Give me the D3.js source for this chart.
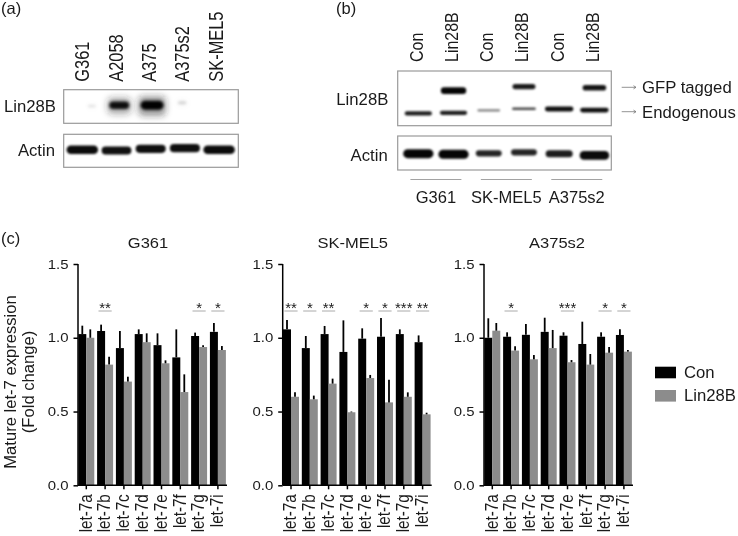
<!DOCTYPE html>
<html><head><meta charset="utf-8">
<script src="https://cdnjs.cloudflare.com/ajax/libs/d3/7.8.5/d3.min.js"></script>
<style>html,body{margin:0;background:#fff}svg{display:block}text{font-family:"Liberation Sans",Arial,sans-serif;fill:#1a1a1a}</style>
</head><body><svg id="c" width="738" height="536"></svg>
<script>
// ---- panel (c) data
const mirnas = ["let-7a","let-7b","let-7c","let-7d","let-7e","let-7f","let-7g","let-7i"];
const yTicks = [0,0.5,1.0,1.5];
const panelNames = ["G361","SK-MEL5","A375s2"];
const seriesNames = ["Con","Lin28B"];
const g361Con = [1.025,1.046,0.93,1.025,0.95,0.867,1.012,1.04];
const g361ConTop = [1.082,1.089,1.046,1.057,1.03,1.057,1.035,1.10];
const g361Lin = [1.0,0.818,0.703,0.97,0.827,0.632,0.937,0.917];
const g361LinTop = [1.057,0.872,0.736,1.03,0.847,0.752,0.949,0.944];
const g361Sig = ["","**","","","","","*","*"];
const skCon = [1.057,0.93,1.025,0.904,0.994,1.007,1.025,0.97];
const skConTop = [1.12,1.012,1.08,1.118,1.064,1.134,1.057,1.016];
const skLin = [0.60,0.583,0.689,0.495,0.727,0.562,0.60,0.481];
const skLinTop = [0.63,0.608,0.723,0.50,0.748,0.716,0.63,0.492];
const skSig = ["**","*","**","","*","*","***","**"];
const a375Con = [1.0,1.007,1.02,1.04,1.014,0.958,1.007,1.019];
const a375ConTop = [1.132,1.037,1.093,1.136,1.037,1.109,1.037,1.057];
const a375Lin = [1.048,0.913,0.854,0.93,0.834,0.818,0.899,0.906];
const a375LinTop = [1.10,0.942,0.883,1.053,0.849,0.89,0.937,0.917];
const a375Sig = ["","*","","","***","","*","*"];
// ---- blot data: density 0..1, migration as fraction of membrane height, drift in lanes
const blotALanes = ["G361","A2058","A375","A375s2","SK-MEL5"];
const aLinDensity = [0.08,0.82,1,0.12,0];
const aLinMigration = [0.49,0.46,0.46,0.39,0.5];
const aLinDrift = [0.28,0.08,0.04,-0.08,0];
const aActDensity = [0.9,0.85,0.86,0.86,0.9];
const aActMigration = [0.47,0.49,0.44,0.42,0.47];
const blotBLanes = ["Con","Lin28B","Con ","Lin28B ","Con  ","Lin28B  "];
const bGfpDensity = [0,0.95,0,0.75,0,0.8];
const bGfpMigration = [0,0.36,0,0.285,0,0.305];
const bEndoDensity = [0.72,0.72,0.27,0.38,0.85,0.85];
const bEndoMigration = [0.775,0.765,0.72,0.69,0.695,0.715];
const bActDensity = [0.95,0.95,0.66,0.66,0.74,0.9];
const bActMigration = [0.52,0.54,0.51,0.48,0.52,0.57];
const bCellLines = ["G361","SK-MEL5","A375s2"];

const svg = d3.select("#c");
const root = svg.append("g").attr("opacity",0.999);
const defs = svg.append("defs");
defs.append("filter").attr("id","core").attr("x","-30%").attr("y","-80%").attr("width","160%").attr("height","260%")
  .append("feGaussianBlur").attr("stdDeviation",1);
defs.append("filter").attr("id","soft").attr("x","-40%").attr("y","-150%").attr("width","180%").attr("height","400%")
  .append("feGaussianBlur").attr("stdDeviation",1.8);
defs.append("filter").attr("id","halo").attr("x","-60%").attr("y","-200%").attr("width","220%").attr("height","500%")
  .append("feGaussianBlur").attr("stdDeviation",3.2);

function txt(x,y,s,size,anchor,rot,stretch){
  const t = root.append("text").attr("font-size",size).attr("text-anchor",anchor||"start").text(s);
  const k = stretch||1;
  t.attr("transform", rot ? `translate(${x},${y}) rotate(-90) scale(1,${k})` : `translate(${x},${y}) scale(${k},1)`);
  return t;
}
txt(1,14,"(a)",16.5); txt(336,14,"(b)",16.5); txt(1,244,"(c)",16.5);

function membrane(x0,x1,y0,y1){
  root.append("rect").attr("x",x0).attr("y",y0).attr("width",x1-x0).attr("height",y1-y0)
    .attr("fill","#fff").attr("stroke","#9a9a9a").attr("stroke-width",1.2);
}
function bands(x,y0,y1,density,migration,drift,wRange,hRange,halo){
  const my = d3.scaleLinear().domain([0,1]).range([y0,y1]);
  const w = d3.scaleLinear().domain([0,1]).range(wRange);
  const h = d3.scaleLinear().domain([0,1]).range(hRange);
  const op = d3.scaleLinear().domain([0,0.4,1]).range([0,0.75,1]);
  const rows = density.map((d,i)=>({d,m:migration[i],dr:drift?drift[i]:0,i})).filter(r=>r.d>0);
  const step = x.step();
  const cx = r=>x(x.domain()[r.i])+x.bandwidth()/2+r.dr*step;
  if(halo){
    const g = root.append("g").attr("filter","url(#halo)");
    g.selectAll("rect").data(rows).join("rect")
      .attr("x",r=>cx(r)-w(r.d)*0.6).attr("width",r=>w(r.d)*1.2)
      .attr("y",r=>my(r.m)-h(r.d)).attr("height",r=>h(r.d)*2.2)
      .attr("rx",5).attr("fill","#222").attr("opacity",r=>r.d*0.45);
  }
  const g = root.append("g").attr("filter",halo?"url(#soft)":"url(#core)");
  g.selectAll("rect").data(rows).join("rect")
    .attr("x",r=>cx(r)-w(r.d)/2).attr("width",r=>w(r.d))
    .attr("y",r=>my(r.m)-h(r.d)/2).attr("height",r=>h(r.d))
    .attr("rx",r=>h(r.d)/2).attr("fill","#050505").attr("opacity",r=>op(r.d));
}
// ---- blot (a)
const xa = d3.scaleBand().domain(blotALanes).range([65.2,236.2]).padding(0);
blotALanes.forEach((n,i)=>txt(xa(n)+xa.bandwidth()/2+6.8-i*0.8,81.7,n,16.4,"start",true,1.2));
txt(56,112,"Lin28B",16.7,"end");
txt(55,156,"Actin",16.7,"end");
membrane(63.7,238.3,89.7,123.3);
bands(xa,89.7,123.3,aLinDensity,aLinMigration,aLinDrift,[6,23],[1,9],true);
membrane(63.7,238.3,134.3,167.3);
bands(xa,134.3,167.3,aActDensity,aActMigration,null,[0,35],[0,9.5],false);
// ---- blot (b)
const xb = d3.scaleBand().domain(blotBLanes).range([400.7,612]).padding(0);
blotBLanes.forEach(n=>txt(xb(n)+xb.bandwidth()/2+4.5,62,n.trim(),16,"start",true,1.2));
txt(388.3,105,"Lin28B",16.7,"end");
txt(387.7,160.7,"Actin",16.7,"end");
membrane(397.7,611.3,71,125.7);
bands(xb,71,125.7,bGfpDensity,bGfpMigration,null,[14,26],[0,7],false);
bands(xb,71,125.7,bEndoDensity,bEndoMigration,null,[20,30],[1,5.5],false);
membrane(397.7,611.3,136,170);
bands(xb,136,170,bActDensity,bActMigration,null,[16,31],[0,9.5],false);
const bandLines = [[0,1],[2,3],[4,5]];
bCellLines.forEach((n,k)=>{
  const a = xb(blotBLanes[bandLines[k][0]]), b = xb(blotBLanes[bandLines[k][1]])+xb.bandwidth();
  const cx=(a+b)/2;
  root.append("line").attr("x1",cx-25.5).attr("x2",cx+25.5).attr("y1",179.5).attr("y2",179.5).attr("stroke","#8c8c8c").attr("stroke-width",0.8);
  txt(cx,203.3,n,16.5,"middle");
});
[[87.3,92.7,"GFP tagged"],[111.7,118,"Endogenous"]].forEach(([ya,yt,s])=>{
  root.append("path").attr("d",`M621.7,${ya}H636M633.5,${ya-1.6}L636,${ya}L633.5,${ya+1.6}`).attr("fill","none").attr("stroke","#777").attr("stroke-width",0.8);
  txt(642,yt,s,16.7);
});
// ---- panel (c)
const y = d3.scaleLinear().domain([0,1.5]).range([485.3,264]);
const panels = [
 {name:panelNames[0],left:78,cx:148,con:g361Con,conTop:g361ConTop,lin:g361Lin,linTop:g361LinTop,sig:g361Sig},
 {name:panelNames[1],left:282.7,cx:352.7,con:skCon,conTop:skConTop,lin:skLin,linTop:skLinTop,sig:skSig},
 {name:panelNames[2],left:484,cx:557,con:a375Con,conTop:a375ConTop,lin:a375Lin,linTop:a375LinTop,sig:a375Sig}
];
panels.forEach(p=>{
  const g = root.append("g");
  const x = d3.scaleBand().domain(mirnas).range([p.left-1.1,p.left+149.3]).paddingInner(0.15).paddingOuter(0.075);
  const inner = d3.scaleBand().domain(seriesNames).range([0,x.bandwidth()]);
  const rows = mirnas.map((m,i)=>({m,i}));
  [["Con",p.con,p.conTop,"#000"],["Lin28B",p.lin,p.linTop,"#8c8c8c"]].forEach(([s,v,t,col])=>{
    g.append("g").selectAll("rect").data(rows).join("rect")
      .attr("x",d=>x(d.m)+inner(s)).attr("width",inner.bandwidth())
      .attr("y",d=>y(v[d.i])).attr("height",d=>y(0)-y(v[d.i])).attr("fill",col);
    g.append("g").selectAll("line").data(rows).join("line")
      .attr("x1",d=>x(d.m)+inner(s)+inner.bandwidth()/2).attr("x2",d=>x(d.m)+inner(s)+inner.bandwidth()/2)
      .attr("y1",d=>y(v[d.i])).attr("y2",d=>y(t[d.i])).attr("stroke","#000").attr("stroke-width",1.8);
  });
  const yAxis = g.append("g").attr("transform",`translate(${p.left},0)`)
    .call(d3.axisLeft(y).tickValues(yTicks).tickFormat(d3.format(".1f")).tickSize(4.5).tickPadding(5));
  yAxis.selectAll("text").attr("font-size",13).attr("font-family",null).attr("x",null)
    .attr("transform","translate(-9.5,0) scale(1.15,1)");
  const xAxis = g.append("g").attr("transform",`translate(0,${y(0)})`)
    .call(d3.axisBottom(x).tickSize(4).tickSizeOuter(0));
  xAxis.selectAll("text").attr("font-size",15.2).attr("font-family",null)
    .attr("transform","translate(5.2,9) rotate(-90) scale(1,1.15)").attr("text-anchor","end").attr("x",0).attr("y",0).attr("dy",0);
  g.selectAll(".domain,.tick line").attr("stroke","#000").attr("stroke-width",1.5);
  yAxis.select(".domain").attr("d",`M0,${y(1.5)}V${y(0)}`);
  xAxis.select(".domain").attr("d",`M${p.left},0H${p.left+149}`);
  const sig = rows.filter(d=>p.sig[d.i]);
  g.append("g").selectAll("line").data(sig).join("line")
    .attr("x1",d=>x(d.m)+x.bandwidth()/2-6.6).attr("x2",d=>x(d.m)+x.bandwidth()/2+6.6)
    .attr("y1",311).attr("y2",311).attr("stroke","#aaa").attr("stroke-width",1);
  g.append("g").selectAll("text").data(sig).join("text")
    .attr("x",d=>x(d.m)+x.bandwidth()/2).attr("y",313).attr("text-anchor","middle").attr("font-size",15).text(d=>p.sig[d.i]);
  txt(p.cx,248,p.name,15,"middle",false,1.1);
});
txt(15.5,382,"Mature let-7 expression",16.6,"middle",true);
txt(33.5,382,"(Fold change)",16.6,"middle",true);
// legend
const colors = d3.scaleOrdinal().domain(seriesNames).range(["#000","#8c8c8c"]);
const ly = d3.scalePoint().domain(seriesNames).range([372.5,395.8]);
seriesNames.forEach(s=>{
  root.append("rect").attr("x",655).attr("width",21).attr("y",ly(s)-5.8).attr("height",11.6).attr("fill",colors(s));
  txt(684,ly(s)+5.5,s,16.7);
});
</script></body></html>
